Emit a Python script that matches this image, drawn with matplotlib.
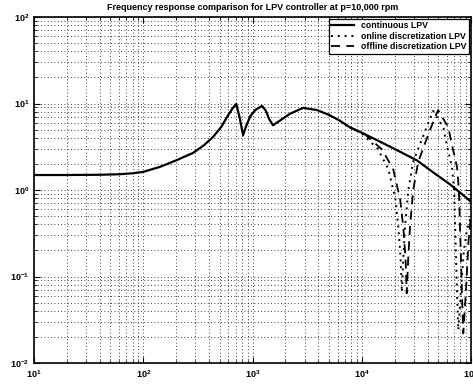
import matplotlib
matplotlib.use("Agg")
import matplotlib.pyplot as plt
from matplotlib.ticker import LogLocator, NullFormatter

# ---- data (frequency, magnitude) ----
cont_freq = [10, 20, 40, 60, 80, 100, 142, 200, 285, 360, 435, 520, 585, 650, 710,
             760, 820, 880, 960, 1060, 1220, 1320, 1430, 1540, 1800, 2200, 2900,
             3890, 5000, 6200, 7800, 10000, 15500, 22000, 32000, 45000, 65000,
             91000, 100000]
cont_mag = [1.49, 1.49, 1.5, 1.52, 1.56, 1.62, 1.85, 2.2, 2.68, 3.3, 4.1, 5.4, 7.0,
            8.6, 9.9, 7.0, 4.3, 5.6, 7.2, 8.4, 9.4, 8.3, 6.5, 5.6, 6.4, 7.6, 8.9,
            8.4, 7.4, 6.4, 5.3, 4.6, 3.5, 2.8, 2.2, 1.6, 1.15, 0.81, 0.73]

off_freq = [7800, 10700, 15500, 19500, 22500, 24000, 25200, 25800, 26600, 27700,
            29600, 32800, 42000, 50000, 62000, 67000, 74500, 77500, 79000, 81000,
            83000, 85000, 90000, 95000, 100000]
off_mag = [5.3, 4.4, 2.9, 1.7, 0.77, 0.37, 0.155, 0.064, 0.155, 0.39, 1.0, 2.1,
           4.9, 8.4, 5.3, 3.3, 1.85, 1.0, 0.45, 0.155, 0.053, 0.022, 0.07, 0.26,
           0.5]

on_freq = [7800, 10000, 14000, 17500, 20300, 21600, 22700, 23300, 24000, 25000,
           26700, 29500, 38000, 45000, 56000, 60000, 67000, 70000, 71300, 73000,
           74800, 76500, 81000, 86000, 92000, 100000]
on_mag = [5.3, 4.5, 3.0, 1.75, 0.8, 0.38, 0.16, 0.066, 0.16, 0.4, 1.0, 2.1, 4.8,
          8.2, 5.2, 3.3, 1.85, 1.0, 0.45, 0.16, 0.055, 0.024, 0.07, 0.2, 0.35, 0.5]

title = "Frequency response comparison for LPV controller at p=10,000 rpm"
labels = ["continuous LPV", "online discretization LPV", "offline discretization LPV"]

plt.rcParams['font.family'] = ['Liberation Sans', 'DejaVu Sans']

fig = plt.figure(figsize=(4.73, 3.88), dpi=100)
ax = fig.add_axes([34/473, 1-363/388, (471-34)/473, (363-17)/388])

ax.plot(cont_freq, cont_mag, color='k', lw=1.6, ls='-', label=labels[0])
ax.plot(on_freq, on_mag, color='k', lw=1.4, ls=(0, (1, 2.5)), label=labels[1])
ax.plot(off_freq, off_mag, color='k', lw=1.3, ls=(0, (5, 3.5)), label=labels[2])

ax.set_xscale('log')
ax.set_yscale('log')
ax.set_xlim(10, 1e5)
ax.set_ylim(1e-2, 1e2)
ax.xaxis.set_major_locator(LogLocator(base=10, numticks=10))
ax.yaxis.set_major_locator(LogLocator(base=10, numticks=10))
ax.xaxis.set_minor_locator(LogLocator(base=10, subs=range(2, 10), numticks=100))
ax.yaxis.set_minor_locator(LogLocator(base=10, subs=range(2, 10), numticks=100))
ax.xaxis.set_minor_formatter(NullFormatter())
ax.yaxis.set_minor_formatter(NullFormatter())
ax.grid(True, which='both', ls=(0, (1, 3)), color='k', lw=0.6)
ax.tick_params(which='both', direction='in', top=True, right=True, labelsize=6.5)
ax.tick_params(which='major', length=4)
ax.tick_params(which='minor', length=2)
for lab in ax.get_xticklabels() + ax.get_yticklabels():
    lab.set_fontweight('bold')
for sp in ax.spines.values():
    sp.set_linewidth(1.2)

ax.set_title(title, fontsize=6.5, fontweight='bold', pad=5)

leg = ax.legend(loc='upper right', fontsize=6.3, frameon=True, fancybox=False,
                edgecolor='k', framealpha=1, handlelength=2.6, borderpad=0.3,
                labelspacing=0.15, borderaxespad=0.2, prop={'weight': 'bold', 'size': 6.3})
leg.get_frame().set_linewidth(0.9)

fig.savefig("out.png", dpi=100)
